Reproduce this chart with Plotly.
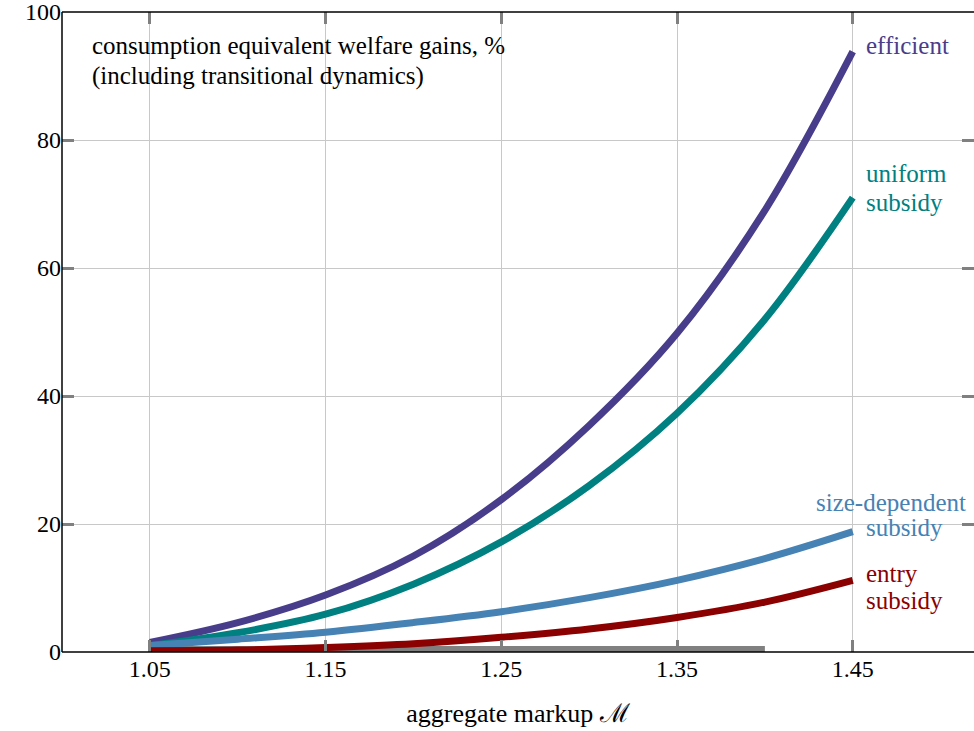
import plotly.graph_objects as go

# Data
markup = [1.05, 1.10, 1.15, 1.20, 1.25, 1.30, 1.35, 1.40, 1.45]
efficient = [1.5, 4.6, 8.9, 15.0, 23.8, 35.4, 49.8, 69.0, 93.8]
uniform_subsidy = [1.0, 3.0, 5.9, 10.6, 17.2, 26.0, 37.3, 52.0, 71.0]
size_dependent_subsidy = [1.0, 2.0, 3.1, 4.6, 6.3, 8.5, 11.2, 14.6, 18.8]
entry_subsidy = [0.2, 0.3, 0.7, 1.3, 2.3, 3.6, 5.4, 7.8, 11.2]
baseline_x = [1.05, 1.40]
baseline_y = [0, 0]
x_ticks = [1.05, 1.15, 1.25, 1.35, 1.45]
y_ticks = [0, 20, 40, 60, 80, 100]

C_EFF = "#483D8B"
C_UNI = "#008080"
C_SIZE = "#4682B4"
C_ENTRY = "#8B0000"
FONT = "Liberation Serif"

fig = go.Figure()
fig.add_trace(go.Scatter(x=baseline_x, y=baseline_y, mode="lines",
                         line=dict(color="#808080", width=12), showlegend=False))
for ys, c in [(efficient, C_EFF), (uniform_subsidy, C_UNI),
              (size_dependent_subsidy, C_SIZE), (entry_subsidy, C_ENTRY)]:
    fig.add_trace(go.Scatter(x=markup, y=ys, mode="lines",
                             line=dict(color=c, width=7, shape="spline", smoothing=1.0),
                             showlegend=False))

ann = []
def lab(text, x, y, color, xanchor="left", size=25):
    ann.append(dict(text=text, x=x, y=y, xref="x", yref="y", showarrow=False,
                    xanchor=xanchor, yanchor="middle", align="left",
                    font=dict(family=FONT, size=size, color=color)))

XL = 1.4563
lab("efficient", XL, 94.8, C_EFF)
lab("uniform", XL, 74.7, C_UNI)
lab("subsidy", XL, 70.2, C_UNI)
lab("size-dependent", 1.5155, 23.3, C_SIZE, xanchor="right")
lab("subsidy", XL, 19.4, C_SIZE)
lab("entry", XL, 12.3, C_ENTRY)
lab("subsidy", XL, 8.1, C_ENTRY)

lab("consumption equivalent welfare gains, %", 1.0159, 94.8, "black")
lab("(including transitional dynamics)", 1.0159, 90.0, "black")

shapes = [
    dict(type="line", xref="paper", yref="paper", x0=0, x1=0, y0=0, y1=1,
         line=dict(color="black", width=1.5)),
    dict(type="line", xref="paper", yref="paper", x0=0, x1=1, y0=0, y1=0,
         line=dict(color="black", width=1.5)),
    dict(type="line", xref="paper", yref="paper", x0=0, x1=1, y0=1, y1=1,
         line=dict(color="black", width=1.5)),
]

fig.update_layout(
    width=974, height=731,
    margin=dict(l=62, r=0, t=12, b=79),
    plot_bgcolor="white", paper_bgcolor="white",
    font=dict(family=FONT, size=24, color="black"),
    annotations=ann, shapes=shapes,
    xaxis=dict(range=[1.0, 1.519], tickvals=x_ticks,
               ticktext=[f"{v:.2f}" for v in x_ticks],
               ticks="inside", ticklen=12, tickwidth=3, tickcolor="#808080",
               mirror="ticks", showline=False, zeroline=False,
               showgrid=True, gridcolor="#c8c8c8", gridwidth=1,
               ticklabeloverflow="allow",
               tickfont=dict(family=FONT, size=24, color="black"),
               title=dict(text="aggregate markup ℳ", standoff=22,
                          font=dict(family=FONT, size=26, color="black"))),
    yaxis=dict(range=[0, 100], tickvals=y_ticks,
               ticks="inside", ticklen=12, tickwidth=3, tickcolor="#808080",
               mirror="ticks", showline=False, zeroline=False,
               showgrid=True, gridcolor="#c8c8c8", gridwidth=1,
               ticklabeloverflow="allow",
               tickfont=dict(family=FONT, size=24, color="black")),
)

fig.write_html("out.html")
